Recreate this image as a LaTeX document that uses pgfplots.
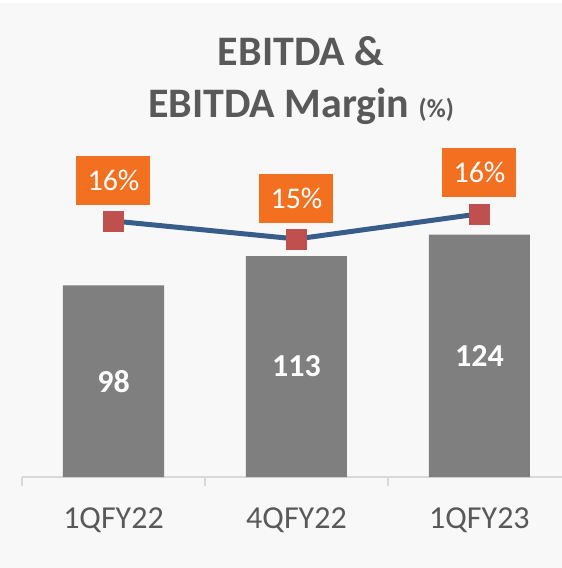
\documentclass[border=0pt]{standalone}
\usepackage{pgfplots}
\usepackage{pgfplotstable}
\pgfplotsset{compat=1.18}
\usepackage{fontspec}
\setmainfont{Carlito}
\pgfplotsset{/pgf/number format/assume math mode=true}
\definecolor{bg}{HTML}{F8F8F8}
\definecolor{bargray}{HTML}{7F7F7F}
\definecolor{txtgray}{HTML}{595959}
\definecolor{axgray}{HTML}{D9D9D9}
\definecolor{lineblue}{HTML}{385D8A}
\definecolor{markred}{HTML}{C0504D}
\definecolor{boxorange}{HTML}{F37021}

% x  ebitda  margin(%)
\pgfplotstableread{
x ebitda margin
0 98  16.0
1 113 15.0
2 124 16.4
}\data

\begin{document}
\begin{tikzpicture}
\path[use as bounding box] (0pt,0pt) rectangle (562pt,568pt);
\fill[bg] (0pt,0pt) rectangle (562pt,565pt);
\fill[white] (0pt,565pt) rectangle (562pt,568pt);

% title
\node[anchor=base, font=\fontsize{42}{42}\selectfont\bfseries, text=txtgray, inner sep=0pt] at (301pt,502pt) {EBITDA \&};
\node[anchor=base, font=\fontsize{42}{42}\selectfont\bfseries, text=txtgray, inner sep=0pt] at (301pt,450pt) {EBITDA Margin {\fontsize{26}{26}\selectfont(\%)}};

% bars
\begin{axis}[
  at={(22pt,91pt)}, anchor=south west,
  scale only axis, width=540pt, height=337pt,
  xmin=-0.5, xmax=2.451, ymin=0, ymax=172.4,
  axis x line*=bottom, axis y line=none,
  axis line style={axgray, line width=2pt, -},
  xtick={0,1,2}, xticklabels={1QFY22,4QFY22,1QFY23},
  major tick length=0pt,
  xticklabel style={anchor=base, yshift=-51pt, text=txtgray, font=\fontsize{32}{32}\selectfont},
  extra x ticks={-0.5,0.5,1.5}, extra x tick labels={},
  extra x tick style={major tick length=9pt, tick align=outside, tick style={axgray, line width=1.5pt}},
  clip=false,
]
\addplot[ybar, bar width=0.552, fill=bargray, draw=none] table[x=x, y=ebitda]{\data};
\addplot[draw=none, mark=none, nodes near coords, point meta=\thisrow{ebitda},
  nodes near coords style={anchor=center, text=white, font=\fontsize{32}{32}\selectfont\bfseries}]
  table[x=x, y expr=\thisrow{ebitda}/2]{\data};
\end{axis}

% margin line
\begin{axis}[
  at={(22pt,91pt)}, anchor=south west,
  scale only axis, width=540pt, height=337pt,
  xmin=-0.5, xmax=2.451, ymin=1.78, ymax=20.5,
  hide axis, clip=false,
]
\addplot[lineblue, line width=5pt, mark=square*, mark size=10pt,
  mark options={fill=markred, draw=markred, line width=0.5pt},
  nodes near coords={\pgfmathprintnumber[fixed,precision=0]{\pgfplotspointmeta}\%},
  point meta=y,
  nodes near coords style={anchor=center, yshift=41pt, fill=boxorange, text=white,
    minimum width=74pt, minimum height=49pt, inner sep=0pt,
    font=\fontsize{30}{30}\selectfont}]
  table[x=x, y=margin]{\data};
\end{axis}
\end{tikzpicture}
\end{document}
